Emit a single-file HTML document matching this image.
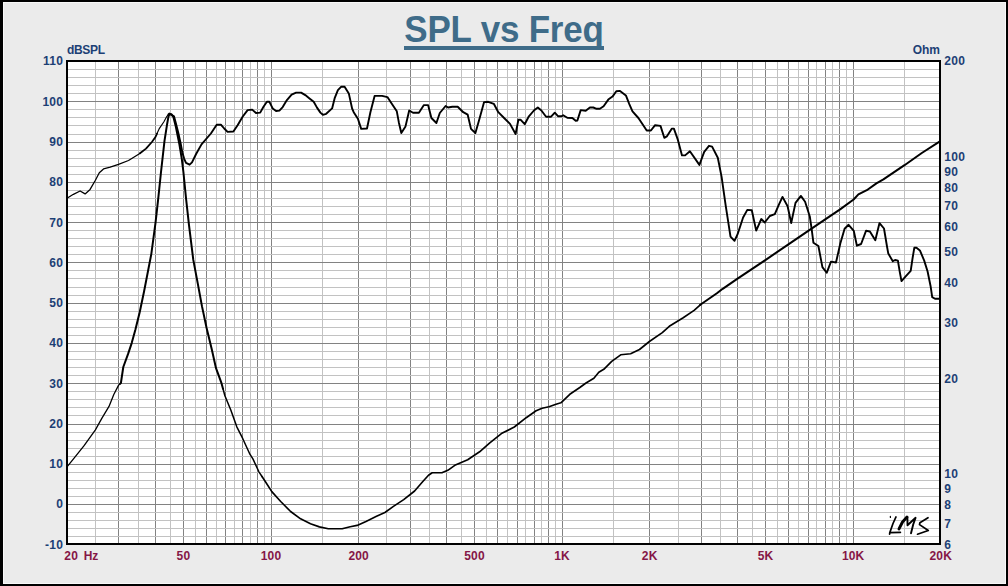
<!DOCTYPE html>
<html><head><meta charset="utf-8"><title>SPL vs Freq</title>
<style>
html,body{margin:0;padding:0;background:#ebebeb;}
body{width:1008px;height:586px;position:relative;overflow:hidden;font-family:"Liberation Sans",sans-serif;}
#wrap{position:absolute;left:0;top:0;width:1008px;height:586px;background:#ebebeb;overflow:hidden;}
.edge{position:absolute;}
.t{position:absolute;white-space:nowrap;font-weight:bold;line-height:1;font-family:"Liberation Sans",sans-serif;}
#title{position:absolute;left:0;width:1008px;top:9.6px;text-align:center;font-weight:bold;font-size:35px;letter-spacing:-0.2px;line-height:40px;color:#3f6c89;font-family:"Liberation Sans",sans-serif;}
#title span{display:inline-block;transform:scaleY(1.045);transform-origin:50% 32.4px;}
#uline{position:absolute;left:404px;top:46px;width:200px;height:4px;background:#3f6c89;}
</style></head><body>
<div id="wrap">
<div class="edge" style="left:0;top:0;width:1008px;height:2px;background:#000"></div>
<div class="edge" style="left:0;top:0;width:3px;height:586px;background:#000"></div>
<div class="edge" style="left:3px;top:2px;width:1005px;height:1px;background:#f8f8f8"></div>
<div class="edge" style="left:3px;top:2px;width:1px;height:584px;background:#f8f8f8"></div>
<div class="edge" style="left:3px;top:583px;width:1005px;height:1px;background:#f8f8f8"></div>
<div class="edge" style="left:1005px;top:2px;width:1px;height:582px;background:#f8f8f8"></div>
<div class="edge" style="left:3px;top:584px;width:1005px;height:2px;background:#000"></div>
<div class="edge" style="left:1006px;top:2px;width:2px;height:584px;background:#000"></div>
<svg width="1008" height="586" viewBox="0 0 1008 586" style="position:absolute;left:0;top:0"><rect x="67.0" y="61.0" width="873.0" height="483.0" fill="#ffffff"/><g shape-rendering="crispEdges"><rect x="95" y="61.0" width="1" height="483.0" fill="#c2c2c2"/><rect x="138" y="61.0" width="1" height="483.0" fill="#c2c2c2"/><rect x="170" y="61.0" width="1" height="483.0" fill="#c2c2c2"/><rect x="195" y="61.0" width="1" height="483.0" fill="#c2c2c2"/><rect x="216" y="61.0" width="1" height="483.0" fill="#c2c2c2"/><rect x="234" y="61.0" width="1" height="483.0" fill="#c2c2c2"/><rect x="250" y="61.0" width="1" height="483.0" fill="#c2c2c2"/><rect x="264" y="61.0" width="1" height="483.0" fill="#c2c2c2"/><rect x="322" y="61.0" width="1" height="483.0" fill="#c2c2c2"/><rect x="386" y="61.0" width="1" height="483.0" fill="#c2c2c2"/><rect x="429" y="61.0" width="1" height="483.0" fill="#c2c2c2"/><rect x="461" y="61.0" width="1" height="483.0" fill="#c2c2c2"/><rect x="486" y="61.0" width="1" height="483.0" fill="#c2c2c2"/><rect x="507" y="61.0" width="1" height="483.0" fill="#c2c2c2"/><rect x="525" y="61.0" width="1" height="483.0" fill="#c2c2c2"/><rect x="541" y="61.0" width="1" height="483.0" fill="#c2c2c2"/><rect x="555" y="61.0" width="1" height="483.0" fill="#c2c2c2"/><rect x="613" y="61.0" width="1" height="483.0" fill="#c2c2c2"/><rect x="678" y="61.0" width="1" height="483.0" fill="#c2c2c2"/><rect x="720" y="61.0" width="1" height="483.0" fill="#c2c2c2"/><rect x="752" y="61.0" width="1" height="483.0" fill="#c2c2c2"/><rect x="777" y="61.0" width="1" height="483.0" fill="#c2c2c2"/><rect x="798" y="61.0" width="1" height="483.0" fill="#c2c2c2"/><rect x="816" y="61.0" width="1" height="483.0" fill="#c2c2c2"/><rect x="832" y="61.0" width="1" height="483.0" fill="#c2c2c2"/><rect x="846" y="61.0" width="1" height="483.0" fill="#c2c2c2"/><rect x="904" y="61.0" width="1" height="483.0" fill="#c2c2c2"/><rect x="118" y="61.0" width="1" height="483.0" fill="#828282"/><rect x="155" y="61.0" width="1" height="483.0" fill="#828282"/><rect x="183" y="61.0" width="1" height="483.0" fill="#828282"/><rect x="206" y="61.0" width="1" height="483.0" fill="#828282"/><rect x="225" y="61.0" width="1" height="483.0" fill="#828282"/><rect x="242" y="61.0" width="1" height="483.0" fill="#828282"/><rect x="257" y="61.0" width="1" height="483.0" fill="#828282"/><rect x="271" y="61.0" width="1" height="483.0" fill="#828282"/><rect x="358" y="61.0" width="1" height="483.0" fill="#828282"/><rect x="410" y="61.0" width="1" height="483.0" fill="#828282"/><rect x="446" y="61.0" width="1" height="483.0" fill="#828282"/><rect x="474" y="61.0" width="1" height="483.0" fill="#828282"/><rect x="497" y="61.0" width="1" height="483.0" fill="#828282"/><rect x="517" y="61.0" width="1" height="483.0" fill="#828282"/><rect x="534" y="61.0" width="1" height="483.0" fill="#828282"/><rect x="548" y="61.0" width="1" height="483.0" fill="#828282"/><rect x="562" y="61.0" width="1" height="483.0" fill="#828282"/><rect x="649" y="61.0" width="1" height="483.0" fill="#828282"/><rect x="701" y="61.0" width="1" height="483.0" fill="#828282"/><rect x="737" y="61.0" width="1" height="483.0" fill="#828282"/><rect x="765" y="61.0" width="1" height="483.0" fill="#828282"/><rect x="788" y="61.0" width="1" height="483.0" fill="#828282"/><rect x="808" y="61.0" width="1" height="483.0" fill="#828282"/><rect x="825" y="61.0" width="1" height="483.0" fill="#828282"/><rect x="839" y="61.0" width="1" height="483.0" fill="#828282"/><rect x="853" y="61.0" width="1" height="483.0" fill="#828282"/><rect x="67.0" y="536" width="873.0" height="1" fill="#c2c2c2"/><rect x="67.0" y="528" width="873.0" height="1" fill="#c2c2c2"/><rect x="67.0" y="520" width="873.0" height="1" fill="#c2c2c2"/><rect x="67.0" y="512" width="873.0" height="1" fill="#c2c2c2"/><rect x="67.0" y="496" width="873.0" height="1" fill="#c2c2c2"/><rect x="67.0" y="488" width="873.0" height="1" fill="#c2c2c2"/><rect x="67.0" y="480" width="873.0" height="1" fill="#c2c2c2"/><rect x="67.0" y="472" width="873.0" height="1" fill="#c2c2c2"/><rect x="67.0" y="456" width="873.0" height="1" fill="#c2c2c2"/><rect x="67.0" y="448" width="873.0" height="1" fill="#c2c2c2"/><rect x="67.0" y="440" width="873.0" height="1" fill="#c2c2c2"/><rect x="67.0" y="432" width="873.0" height="1" fill="#c2c2c2"/><rect x="67.0" y="415" width="873.0" height="1" fill="#c2c2c2"/><rect x="67.0" y="407" width="873.0" height="1" fill="#c2c2c2"/><rect x="67.0" y="399" width="873.0" height="1" fill="#c2c2c2"/><rect x="67.0" y="391" width="873.0" height="1" fill="#c2c2c2"/><rect x="67.0" y="375" width="873.0" height="1" fill="#c2c2c2"/><rect x="67.0" y="367" width="873.0" height="1" fill="#c2c2c2"/><rect x="67.0" y="359" width="873.0" height="1" fill="#c2c2c2"/><rect x="67.0" y="351" width="873.0" height="1" fill="#c2c2c2"/><rect x="67.0" y="335" width="873.0" height="1" fill="#c2c2c2"/><rect x="67.0" y="327" width="873.0" height="1" fill="#c2c2c2"/><rect x="67.0" y="319" width="873.0" height="1" fill="#c2c2c2"/><rect x="67.0" y="311" width="873.0" height="1" fill="#c2c2c2"/><rect x="67.0" y="295" width="873.0" height="1" fill="#c2c2c2"/><rect x="67.0" y="287" width="873.0" height="1" fill="#c2c2c2"/><rect x="67.0" y="278" width="873.0" height="1" fill="#c2c2c2"/><rect x="67.0" y="270" width="873.0" height="1" fill="#c2c2c2"/><rect x="67.0" y="254" width="873.0" height="1" fill="#c2c2c2"/><rect x="67.0" y="246" width="873.0" height="1" fill="#c2c2c2"/><rect x="67.0" y="238" width="873.0" height="1" fill="#c2c2c2"/><rect x="67.0" y="230" width="873.0" height="1" fill="#c2c2c2"/><rect x="67.0" y="214" width="873.0" height="1" fill="#c2c2c2"/><rect x="67.0" y="206" width="873.0" height="1" fill="#c2c2c2"/><rect x="67.0" y="198" width="873.0" height="1" fill="#c2c2c2"/><rect x="67.0" y="190" width="873.0" height="1" fill="#c2c2c2"/><rect x="67.0" y="174" width="873.0" height="1" fill="#c2c2c2"/><rect x="67.0" y="166" width="873.0" height="1" fill="#c2c2c2"/><rect x="67.0" y="158" width="873.0" height="1" fill="#c2c2c2"/><rect x="67.0" y="150" width="873.0" height="1" fill="#c2c2c2"/><rect x="67.0" y="134" width="873.0" height="1" fill="#c2c2c2"/><rect x="67.0" y="125" width="873.0" height="1" fill="#c2c2c2"/><rect x="67.0" y="117" width="873.0" height="1" fill="#c2c2c2"/><rect x="67.0" y="109" width="873.0" height="1" fill="#c2c2c2"/><rect x="67.0" y="93" width="873.0" height="1" fill="#c2c2c2"/><rect x="67.0" y="85" width="873.0" height="1" fill="#c2c2c2"/><rect x="67.0" y="77" width="873.0" height="1" fill="#c2c2c2"/><rect x="67.0" y="69" width="873.0" height="1" fill="#c2c2c2"/><rect x="67.0" y="504" width="873.0" height="1" fill="#828282"/><rect x="67.0" y="464" width="873.0" height="1" fill="#828282"/><rect x="67.0" y="424" width="873.0" height="1" fill="#828282"/><rect x="67.0" y="383" width="873.0" height="1" fill="#828282"/><rect x="67.0" y="343" width="873.0" height="1" fill="#828282"/><rect x="67.0" y="303" width="873.0" height="1" fill="#828282"/><rect x="67.0" y="262" width="873.0" height="1" fill="#828282"/><rect x="67.0" y="222" width="873.0" height="1" fill="#828282"/><rect x="67.0" y="182" width="873.0" height="1" fill="#828282"/><rect x="67.0" y="142" width="873.0" height="1" fill="#828282"/><rect x="67.0" y="101" width="873.0" height="1" fill="#828282"/></g><path d="M67.0,198.2 L73.4,194.3 L80.1,191.0 L85.1,193.9 L90.1,189.4 L95.4,180.2 L99.3,172.7 L103.5,168.9 L110.2,167.2 L118.5,164.4 L128.5,160.5 L138.6,154.3 L140.0,153.2" fill="none" stroke="#000" stroke-width="1.3" stroke-linejoin="round" stroke-linecap="round"/><path d="M140.0,153.2 L146.0,148.6 L151.9,142.0 L155.5,137.0 L157.0,133.6" fill="none" stroke="#000" stroke-width="1.8" stroke-linejoin="round" stroke-linecap="round"/><path d="M157.0,133.6 L159.1,128.9 L163.9,121.7 L166.9,116.3 L168.5,114.5" fill="none" stroke="#000" stroke-width="1.15" stroke-linejoin="round" stroke-linecap="round"/><path d="M168.5,114.5 L169.3,113.6 L171.3,114.8 L174.0,116.3 L175.8,122.9 L178.2,132.5 L180.6,143.2 L182.4,152.8 L184.2,158.8 L186.0,162.9 L189.6,164.7 L192.0,162.3 L196.1,154.0 L201.5,144.4 L205.7,139.5 L210.9,133.5 L216.7,124.8 L220.9,124.7 L224.2,128.5 L227.6,131.9 L233.4,131.5 L237.6,125.2 L242.6,116.8 L247.6,110.1 L252.2,109.6 L256.0,113.0 L260.2,112.6 L263.5,106.8 L266.9,101.8 L269.4,101.8 L272.7,108.4 L276.1,111.0 L279.4,110.6 L282.7,107.1 L286.9,100.1 L291.6,94.6 L296.1,92.6 L301.1,92.6 L305.3,95.1 L309.5,98.4 L313.7,101.8 L317.0,107.6 L320.4,112.6 L322.9,114.8 L326.2,113.8 L332.1,108.4 L334.6,98.4 L337.9,90.1 L341.3,86.7 L344.6,86.7 L348.8,93.4 L352.1,108.5 L353.7,112.2 L357.9,118.8 L361.2,128.9 L367.0,128.5 L370.4,112.2 L374.6,95.9 L382.1,95.9 L387.4,97.1 L391.3,103.0 L396.8,111.3 L398.8,122.2 L401.3,133.0 L405.5,126.4 L409.2,110.5 L413.0,112.7 L418.9,112.7 L423.9,105.1 L428.1,105.1 L431.4,118.0 L436.4,123.0 L439.8,113.0 L445.6,106.0 L448.1,107.5 L452.3,106.8 L457.7,106.8 L463.2,112.2 L467.7,114.7 L471.0,128.9 L475.4,133.0 L479.0,120.5 L484.1,102.1 L488.2,101.8 L493.8,103.8 L498.3,112.2 L504.1,118.0 L510.0,123.9 L515.6,134.0 L518.4,119.7 L520.5,119.7 L524.7,124.2 L528.9,116.3 L533.9,110.5 L537.8,107.6 L541.4,110.5 L546.1,116.7 L551.1,116.7 L554.8,112.7 L558.2,116.3 L561.5,116.3 L563.2,115.2 L567.3,117.7 L572.4,118.0 L575.7,120.8 L577.4,120.5 L580.7,110.1 L585.7,110.8 L589.9,107.5 L593.3,107.5 L596.6,108.8 L599.9,108.8 L603.6,106.3 L608.3,99.6 L612.5,96.6 L616.3,91.3 L620.0,90.9 L625.9,95.4 L629.2,103.8 L632.5,111.3 L638.4,118.0 L643.4,125.5 L646.7,130.5 L650.9,130.5 L655.1,125.2 L660.5,125.9 L664.3,137.8 L666.8,136.4 L671.9,128.6 L673.9,128.6 L677.9,139.9 L682.0,155.4 L685.1,155.4 L689.9,151.3 L699.4,164.9 L704.2,151.8 L709.0,145.8 L712.1,146.6 L717.8,157.8 L721.6,176.9 L725.7,205.6 L730.5,236.6 L734.5,240.8 L737.6,234.2 L743.1,217.5 L747.3,209.9 L751.8,210.3 L756.2,230.6 L761.3,219.0 L764.7,222.5 L769.8,216.0 L774.8,214.2 L779.0,204.4 L782.5,196.9 L787.6,206.3 L791.2,223.0 L795.5,202.9 L800.9,195.9 L805.1,201.7 L809.8,216.5 L811.8,230.2 L813.4,242.7 L818.4,246.0 L822.4,267.1 L826.7,272.8 L831.0,261.6 L836.0,262.5 L840.3,243.5 L844.6,228.7 L848.6,224.8 L853.8,230.9 L856.9,245.7 L861.1,244.0 L866.1,230.7 L869.9,231.5 L875.3,240.2 L879.5,223.1 L884.0,228.5 L887.0,246.5 L888.3,253.6 L892.8,261.2 L895.1,260.0 L897.9,260.6 L899.8,272.1 L901.5,281.1 L905.0,277.2 L910.7,270.8 L912.6,258.0 L914.3,247.8 L916.5,247.8 L919.9,250.4 L924.2,260.6 L927.6,271.5 L930.6,286.2 L932.2,297.1 L935.0,298.7 L939.1,298.7" fill="none" stroke="#000" stroke-width="1.9" stroke-linejoin="round" stroke-linecap="round"/><path d="M67.2,466.6 L74.3,457.8 L83.9,445.9 L95.4,429.9 L101.8,418.4 L109.0,406.4 L113.8,394.5 L118.5,385.4 L120.0,383.9" fill="none" stroke="#000" stroke-width="1.3" stroke-linejoin="round" stroke-linecap="round"/><path d="M120.0,383.9 L120.9,383.0 L123.3,367.0 L128.1,353.9 L131.7,343.1 L135.3,330.0 L139.7,312.2 L144.0,291.8 L151.3,254.1 L155.6,222.2 L158.5,196.1 L160.9,173.0 L164.5,140.8 L166.9,125.3 L168.4,116.9 L169.5,114.0 L171.5,114.3 L173.4,116.9 L175.8,126.5 L179.4,144.4 L181.8,158.8 L183.4,172.0 L186.1,199.0 L189.0,225.1 L193.3,259.9 L197.7,283.1 L202.0,306.4 L206.6,328.0 L211.7,349.1 L216.0,368.2 L221.3,382.6 L223.0,388.8" fill="none" stroke="#000" stroke-width="2.0" stroke-linejoin="round" stroke-linecap="round"/><path d="M223.0,388.8 L224.9,395.7 L230.8,410.0 L236.8,426.8 L242.8,438.7 L249.9,454.2 L252.9,458.9 L258.9,471.8 L262.0,476.5" fill="none" stroke="#000" stroke-width="1.5" stroke-linejoin="round" stroke-linecap="round"/><path d="M262.0,476.5 L264.8,480.7 L271.8,491.6 L280.7,501.5 L290.6,511.5 L300.6,518.8 L310.5,523.8 L319.4,526.9 L328.3,528.7 L342.2,528.7 L350.2,526.7 L357.1,525.4 L366.0,521.4 L376.0,516.4 L384.9,512.5 L393.8,506.1 L403.7,499.6 L414.6,491.0 L422.6,481.7 L428.5,475.2 L432.2,472.8 L441.9,472.7 L447.8,470.3 L454.8,465.3 L467.7,459.8 L479.6,451.8 L489.5,443.1 L501.4,433.6 L514.3,427.0 L526.2,417.7 L536.1,410.8 L542.1,408.2 L549.0,406.8 L556.0,404.2 L560.9,402.8 L569.8,394.3 L579.8,387.5 L586.0,383.0 L593.9,378.3 L598.8,372.3 L603.8,369.3 L611.7,361.4 L620.7,354.8 L630.6,353.8 L639.5,349.5 L649.4,341.5 L662.3,332.6 L669.3,326.3 L683.2,317.7 L694.1,310.4 L700.0,305.1" fill="none" stroke="#000" stroke-width="1.65" stroke-linejoin="round" stroke-linecap="round"/><path d="M700.0,305.1 L701.0,304.2 L716.9,293.3 L722.7,288.8 L737.2,278.9 L765.7,259.8 L788.4,244.4 L808.6,230.7 L825.6,219.1 L840.1,209.4 L853.6,199.5 L858.4,194.4 L866.8,190.2 L876.4,183.4 L883.4,179.3 L904.5,165.2 L921.8,153.0 L939.5,141.6" fill="none" stroke="#000" stroke-width="2.0" stroke-linejoin="round" stroke-linecap="round"/><g fill="none" stroke="#000" stroke-width="1.7" stroke-linecap="round" stroke-linejoin="round"><path d="M890.4,516.4 L890.4,517.4" stroke-width="1.2"/><path d="M896,516.9 L893,523.5 L889.8,532.6 L889.6,534.2 M889.9,532.7 L900.4,532.3"/><path d="M899,528.9 L902.5,522 L907,517" stroke-width="2.9"/><path d="M907.4,517.2 L907.5,525.2 L915.6,517.8 L913.2,524.5 L911,533.3" stroke-width="1.9"/><path d="M928,517.7 L919.9,522.8 L919.5,524.6 L928.3,530.5 L917.5,534.2"/></g><rect x="67.0" y="61.0" width="873.0" height="483.0" fill="none" stroke="#000" stroke-width="2" shape-rendering="crispEdges"/></svg>
<div id="title"><span>SPL vs Freq</span></div><div id="uline"></div>
<div class="t" style="left:63.3px;top:60.8px;color:#1c3f75;font-size:12px;transform:translate(-100%,-50%);letter-spacing:0.3px;">110</div><div class="t" style="left:63.3px;top:101.8px;color:#1c3f75;font-size:12px;transform:translate(-100%,-50%);letter-spacing:0.3px;">100</div><div class="t" style="left:63.3px;top:141.8px;color:#1c3f75;font-size:12px;transform:translate(-100%,-50%);letter-spacing:0.3px;">90</div><div class="t" style="left:63.3px;top:181.8px;color:#1c3f75;font-size:12px;transform:translate(-100%,-50%);letter-spacing:0.3px;">80</div><div class="t" style="left:63.3px;top:222.8px;color:#1c3f75;font-size:12px;transform:translate(-100%,-50%);letter-spacing:0.3px;">70</div><div class="t" style="left:63.3px;top:262.8px;color:#1c3f75;font-size:12px;transform:translate(-100%,-50%);letter-spacing:0.3px;">60</div><div class="t" style="left:63.3px;top:302.8px;color:#1c3f75;font-size:12px;transform:translate(-100%,-50%);letter-spacing:0.3px;">50</div><div class="t" style="left:63.3px;top:342.8px;color:#1c3f75;font-size:12px;transform:translate(-100%,-50%);letter-spacing:0.3px;">40</div><div class="t" style="left:63.3px;top:383.8px;color:#1c3f75;font-size:12px;transform:translate(-100%,-50%);letter-spacing:0.3px;">30</div><div class="t" style="left:63.3px;top:423.8px;color:#1c3f75;font-size:12px;transform:translate(-100%,-50%);letter-spacing:0.3px;">20</div><div class="t" style="left:63.3px;top:463.8px;color:#1c3f75;font-size:12px;transform:translate(-100%,-50%);letter-spacing:0.3px;">10</div><div class="t" style="left:63.3px;top:503.8px;color:#1c3f75;font-size:12px;transform:translate(-100%,-50%);letter-spacing:0.3px;">0</div><div class="t" style="left:63.3px;top:544.8px;color:#1c3f75;font-size:12px;transform:translate(-100%,-50%);letter-spacing:0.3px;">-10</div><div class="t" style="left:66.9px;top:50.4px;color:#1c3f75;font-size:12px;transform:translate(0,-50%);letter-spacing:-0.3px;">dBSPL</div><div class="t" style="left:944.2px;top:60.8px;color:#1c3f75;font-size:12px;transform:translate(0,-50%);letter-spacing:0.3px;">200</div><div class="t" style="left:944.2px;top:156.8px;color:#1c3f75;font-size:12px;transform:translate(0,-50%);letter-spacing:0.3px;">100</div><div class="t" style="left:944.2px;top:171.8px;color:#1c3f75;font-size:12px;transform:translate(0,-50%);letter-spacing:0.3px;">90</div><div class="t" style="left:944.2px;top:187.8px;color:#1c3f75;font-size:12px;transform:translate(0,-50%);letter-spacing:0.3px;">80</div><div class="t" style="left:944.2px;top:205.8px;color:#1c3f75;font-size:12px;transform:translate(0,-50%);letter-spacing:0.3px;">70</div><div class="t" style="left:944.2px;top:226.8px;color:#1c3f75;font-size:12px;transform:translate(0,-50%);letter-spacing:0.3px;">60</div><div class="t" style="left:944.2px;top:251.8px;color:#1c3f75;font-size:12px;transform:translate(0,-50%);letter-spacing:0.3px;">50</div><div class="t" style="left:944.2px;top:282.8px;color:#1c3f75;font-size:12px;transform:translate(0,-50%);letter-spacing:0.3px;">40</div><div class="t" style="left:944.2px;top:322.8px;color:#1c3f75;font-size:12px;transform:translate(0,-50%);letter-spacing:0.3px;">30</div><div class="t" style="left:944.2px;top:378.8px;color:#1c3f75;font-size:12px;transform:translate(0,-50%);letter-spacing:0.3px;">20</div><div class="t" style="left:944.2px;top:473.8px;color:#1c3f75;font-size:12px;transform:translate(0,-50%);letter-spacing:0.3px;">10</div><div class="t" style="left:944.2px;top:488.8px;color:#1c3f75;font-size:12px;transform:translate(0,-50%);letter-spacing:0.3px;">9</div><div class="t" style="left:944.2px;top:504.8px;color:#1c3f75;font-size:12px;transform:translate(0,-50%);letter-spacing:0.3px;">8</div><div class="t" style="left:944.2px;top:523.8px;color:#1c3f75;font-size:12px;transform:translate(0,-50%);letter-spacing:0.3px;">7</div><div class="t" style="left:944.2px;top:544.8px;color:#1c3f75;font-size:12px;transform:translate(0,-50%);letter-spacing:0.3px;">6</div><div class="t" style="left:940.0px;top:50.4px;color:#1c3f75;font-size:12px;transform:translate(-100%,-50%);">Ohm</div><div class="t" style="left:183.4px;top:556.0px;color:#851646;font-size:12px;transform:translate(-50%,-50%);letter-spacing:0.2px;">50</div><div class="t" style="left:271.0px;top:556.0px;color:#851646;font-size:12px;transform:translate(-50%,-50%);letter-spacing:0.2px;">100</div><div class="t" style="left:358.7px;top:556.0px;color:#851646;font-size:12px;transform:translate(-50%,-50%);letter-spacing:0.2px;">200</div><div class="t" style="left:474.5px;top:556.0px;color:#851646;font-size:12px;transform:translate(-50%,-50%);letter-spacing:0.2px;">500</div><div class="t" style="left:562.1px;top:556.0px;color:#851646;font-size:12px;transform:translate(-50%,-50%);letter-spacing:0.2px;">1K</div><div class="t" style="left:649.7px;top:556.0px;color:#851646;font-size:12px;transform:translate(-50%,-50%);letter-spacing:0.2px;">2K</div><div class="t" style="left:765.6px;top:556.0px;color:#851646;font-size:12px;transform:translate(-50%,-50%);letter-spacing:0.2px;">5K</div><div class="t" style="left:853.2px;top:556.0px;color:#851646;font-size:12px;transform:translate(-50%,-50%);letter-spacing:0.2px;">10K</div><div class="t" style="left:940.8px;top:556.0px;color:#851646;font-size:12px;transform:translate(-50%,-50%);letter-spacing:0.2px;">20K</div><div class="t" style="left:64.2px;top:556.0px;color:#851646;font-size:12px;transform:translate(0,-50%);letter-spacing:0.3px;">20</div><div class="t" style="left:83.7px;top:556.0px;color:#851646;font-size:12px;transform:translate(0,-50%);">Hz</div>
</div>
</body></html>
